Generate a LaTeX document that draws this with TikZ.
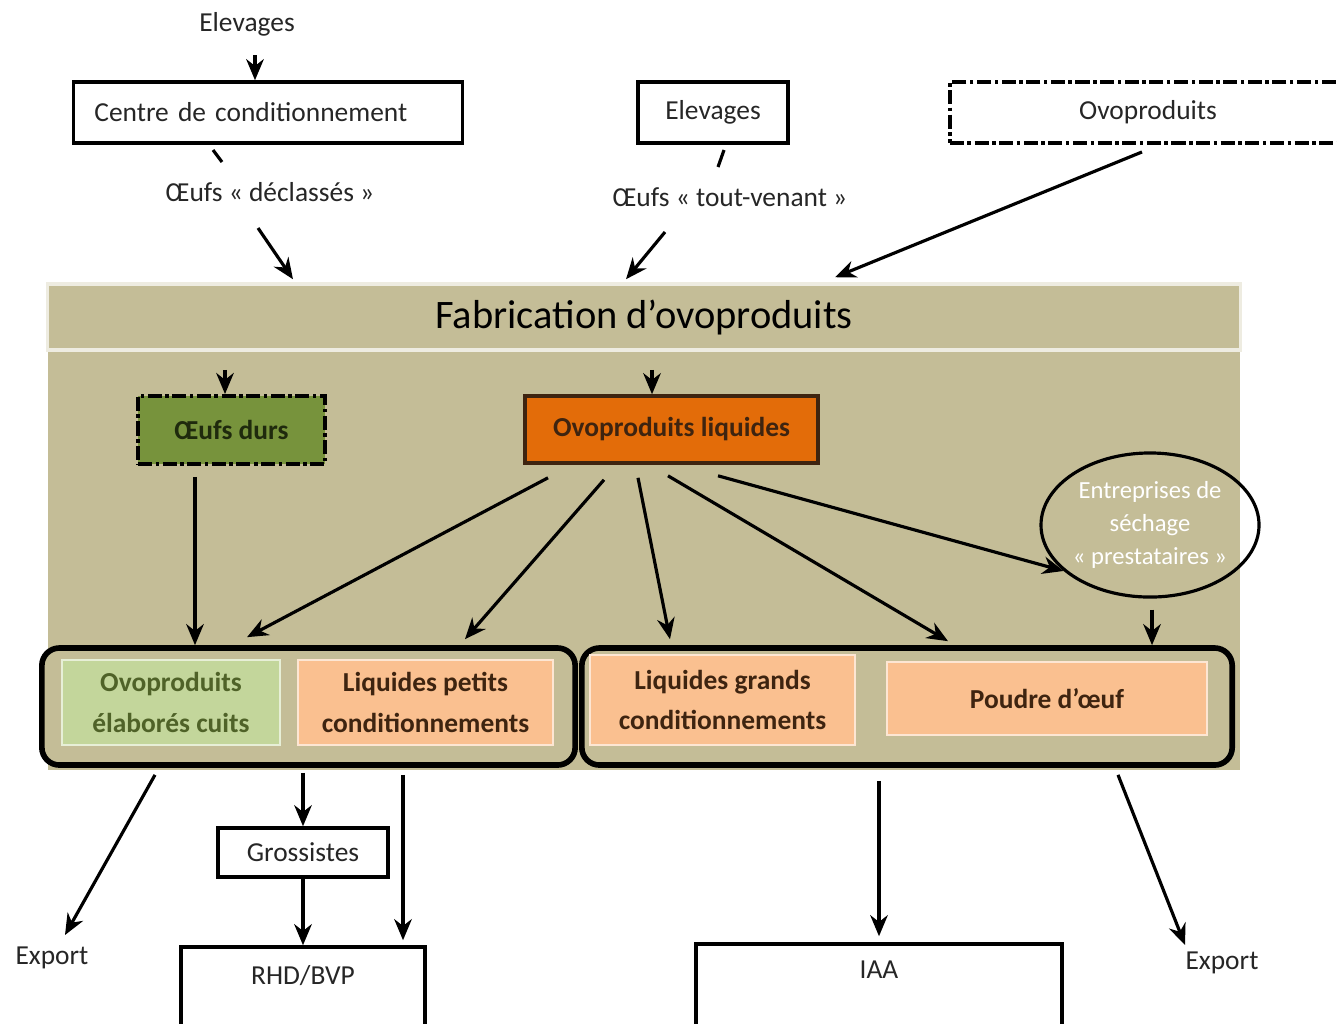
\documentclass[tikz,border=0pt]{standalone}
\usepackage{fontspec}
\setmainfont{Carlito}
\usetikzlibrary{arrows.meta,calc,shapes.geometric}
\definecolor{tanbg}{HTML}{C4BD97}
\definecolor{tanline}{HTML}{EEECE1}
\definecolor{olive}{HTML}{77933C}
\definecolor{oliveink}{HTML}{1F2A0D}
\definecolor{orangebox}{HTML}{E36C09}
\definecolor{lightgreen}{HTML}{C3D69B}
\definecolor{greenink}{HTML}{4F6228}
\definecolor{peach}{HTML}{FAC090}
\definecolor{brownink}{HTML}{3E2410}

\begin{document}
\begin{tikzpicture}[x=0.01cm, y=-0.01cm, font=\fontsize{7.8}{11.5}\selectfont, text=black!85,
    box/.style = {draw, line width=1pt, inner sep=0pt},
    dashbox/.style = {box, dash pattern=on 4pt off 1pt on 1pt off 1pt, line width=1.1pt},
    group/.style = {draw, line width=1.6pt, rounded corners=5pt, fill=tanbg},
    bold/.style = {font=\fontsize{7.8}{11.5}\selectfont\bfseries},
    item/.style = {draw=white!60!peach, line width=0.5pt, fill=peach, text=brownink, bold, align=center},
    flow/.style = {-{Stealth[length=6pt,width=5pt]}, line width=0.9pt},
    stub/.style = {line width=0.9pt}]
    \clip (0,0) rectangle (1337,1023);
    \fill[tanbg] (48,284) rectangle (1240,770);
    \node (elev1) at (247,24) {Elevages};
    \node[box, minimum width=3.89cm, minimum height=0.61cm, text width=3.47cm, inner xsep=0.21cm, align=left] (centre) at (268,112.5) {Centre de conditionnement};
    \node (dec) at (270,192) {Œufs «~déclassés~»};
    \node[box, minimum width=1.50cm, minimum height=0.61cm] (elev2) at (713,112.5) {Elevages};
    \node (tout) at (730,197) {Œufs «~tout-venant~»};
    \node[dashbox, minimum width=3.96cm, minimum height=0.61cm] (ovo) at (1148,112.5) {Ovoproduits};
    \node[fill=tanbg, draw=tanline, line width=1pt, minimum width=11.92cm, minimum height=0.66cm, font=\fontsize{11.5}{14}\selectfont, text=black] (fab) at (644,317) {Fabrication d’ovoproduits};
    \node[dashbox, preaction={draw=white, line width=1.3pt}, fill=olive, minimum width=1.87cm, minimum height=0.68cm, text=oliveink, bold] (durs) at (231.5,430) {Œufs durs};
    \node[box, fill=orangebox, draw=brownink, minimum width=2.93cm, minimum height=0.67cm, text=brownink, bold] (liq) at (671.5,429.5) {Ovoproduits liquides};
    \node[ellipse, draw, line width=0.9pt, minimum width=2.16cm, minimum height=1.44cm, inner sep=0pt, align=center, text=white, font=\fontsize{7}{9.3}\selectfont] (sech) at (1150,525) {Entreprises de\\séchage\\«~prestataires~»};
    \node[group, minimum width=5.33cm, minimum height=1.17cm] (grpL) at (308.5,706.5) {};
    \node[group, minimum width=6.50cm, minimum height=1.17cm] (grpR) at (907,706.5) {};
    \node[item, fill=lightgreen, draw=white!60!lightgreen, text=greenink, minimum width=2.18cm, minimum height=0.85cm] (cuits) at (171,702.5) {Ovoproduits\\élaborés cuits};
    \node[item, minimum width=2.55cm, minimum height=0.85cm] (pet) at (425.5,702.5) {Liquides petits\\conditionnements};
    \node[item, minimum width=2.65cm, minimum height=0.90cm] (grand) at (722.5,700) {Liquides grands\\conditionnements};
    \node[item, minimum width=3.20cm, minimum height=0.73cm] (poudre) at (1047,698.5) {Poudre d’œuf};
    \node[box, minimum width=1.70cm, minimum height=0.49cm] (gros) at (303,852.5) {Grossistes};
    \node[box, minimum width=2.44cm, minimum height=1.20cm, label={[anchor=north, inner sep=0pt, yshift=-0.19cm]north:RHD/BVP}] (rhd) at (303,1007) {};
    \node[box, minimum width=3.66cm, minimum height=1.20cm, label={[anchor=north, inner sep=0pt, yshift=-0.18cm]north:IAA}] (iaa) at (879,1004) {};
    \node (exp1) at (52,958) {Export};
    \node (exp2) at (1222,963) {Export};

    \draw[flow] ($(elev1)+(8,31)$) -- ($(centre.north)+(-13,0)$);
    \draw[stub] ($(centre)+(-55,37.5)$) -- ($(centre)+(-46,49.5)$);
    \draw[flow] ($(dec)+(-12,36)$) -- ($(fab.north)+(-351,-3)$);
    \draw[stub] ($(elev2)+(11,37.5)$) -- ($(elev2)+(5,54.5)$);
    \draw[flow] ($(tout)+(-65,35)$) -- ($(fab.north)+(-18,-3)$);
    \draw[flow] ($(ovo.south)+(-6,7)$) -- ($(fab.north)+(191,-5)$);
    \draw[flow] ($(fab.south)+(-419,18)$) -- ($(durs.north)+(-6.5,0)$);
    \draw[flow] ($(fab.south)+(8,18)$) -- ($(liq.north)+(-19.5,0)$);
    \draw[flow] ($(durs.south)+(-36.5,11)$) -- ($(grpL.north)+(-113.5,0)$);
    \draw[flow] ($(liq.south)+(-123.5,13)$) -- ($(grpL.north)+(-61.5,-8)$);
    \draw[flow] ($(liq.south)+(-67.5,15)$) -- ($(grpL.north)+(156.5,-6)$);
    \draw[flow] ($(liq.south)+(-33.5,13)$) -- ($(grpR.north)+(-237,-6)$);
    \draw[flow] ($(liq.south)+(-3.5,11)$) -- ($(grpR.north)+(41,-4)$);
    \draw[flow] ($(liq.south)+(46.5,11)$) -- (sech.208);
    \draw[flow] ($(sech.south)+(2,11)$) -- ($(grpR.north)+(245,0)$);
    \draw[flow] ($(grpL.south)+(-153.5,7)$) -- ($(exp1)+(13,-23)$);
    \draw[flow] ($(grpL.south)+(-5.5,5)$) -- (gros.north);
    \draw[flow] (gros.south) -- (rhd.north);
    \draw[flow] ($(grpL.south)+(94.5,7)$) -- ($(rhd.north)+(100,-5)$);
    \draw[flow] ($(grpR.south)+(-28,13)$) -- ($(iaa.north)+(0,-6)$);
    \draw[flow] ($(grpR.south)+(211,7)$) -- ($(exp2)+(-37,-18)$);
\end{tikzpicture}
\end{document}
